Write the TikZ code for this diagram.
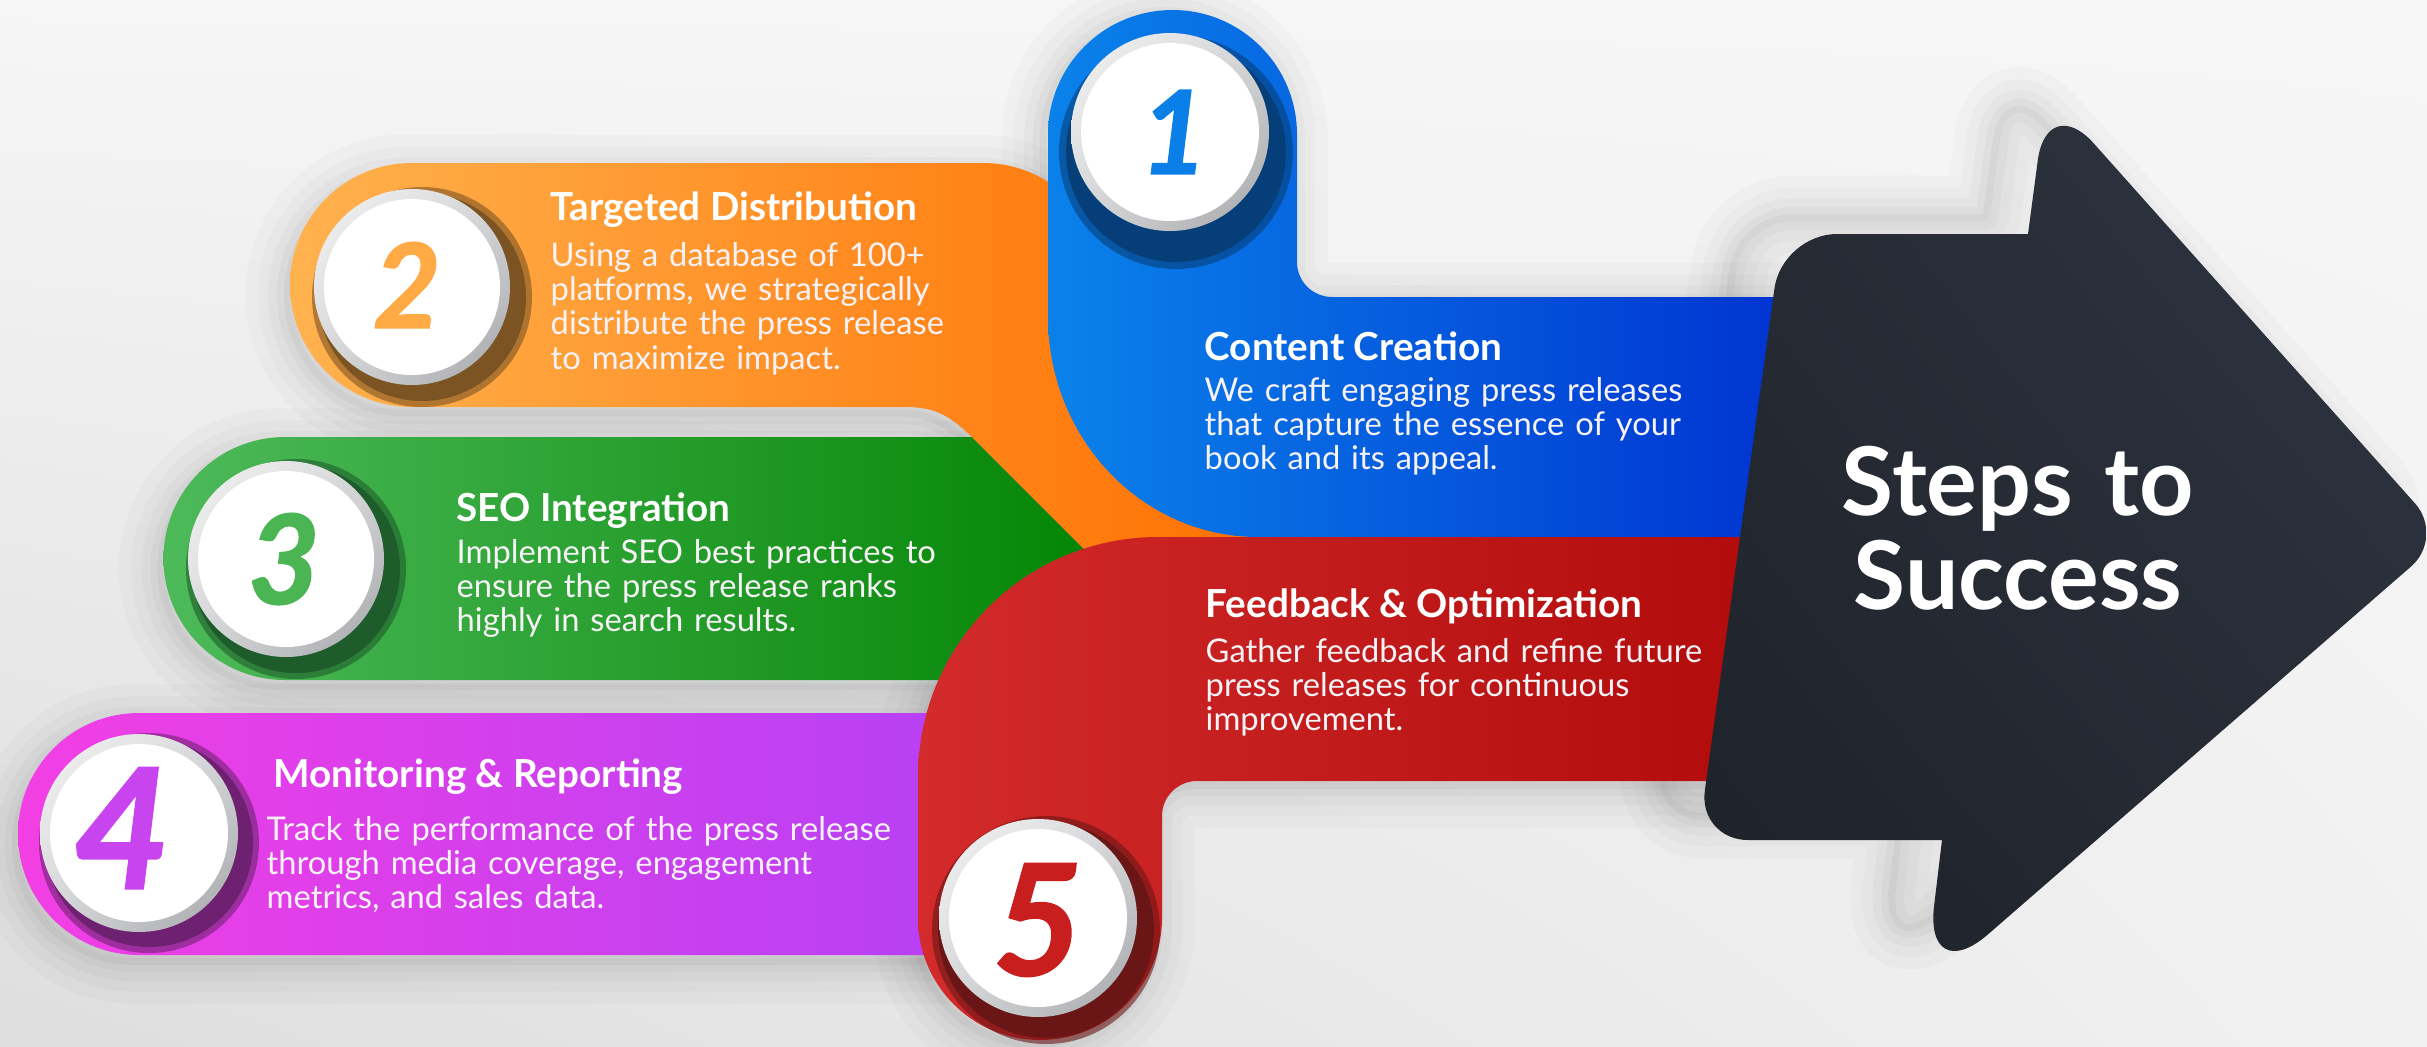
\documentclass[tikz,border=0pt]{standalone}
\usepackage{fontspec}
\setmainfont{Lato}
\newfontfamily\numfont{Lato}[FakeBold=1.2]
\usepackage{xcolor}
\usetikzlibrary{shadings}

% band colours
\definecolor{orangeLight}{HTML}{FFB24E}
\definecolor{orangeMid}{HTML}{FFAA44}
\definecolor{orangeDeep}{HTML}{FF6F00}
\definecolor{greenLight}{HTML}{4DBA5A}
\definecolor{greenMid}{HTML}{3FB24D}
\definecolor{greenDeep}{HTML}{008200}
\definecolor{purpleLeft}{HTML}{F23FE4}
\definecolor{purpleMid}{HTML}{D543EB}
\definecolor{purpleRight}{HTML}{B440F5}
\definecolor{blueMain}{HTML}{0A82EA}
\definecolor{blueMid}{HTML}{0A7DE8}
\definecolor{blueDeep}{HTML}{0030D0}
\definecolor{redMain}{HTML}{D32B2B}
\definecolor{redMid}{HTML}{D12929}
\definecolor{redDeep}{HTML}{B00A0A}
\definecolor{arrowDark}{HTML}{1D2129}
\definecolor{arrowMid}{HTML}{262B34}
\definecolor{arrowLight}{HTML}{313744}
% disc colours
\definecolor{rimLight}{HTML}{F4F4F4}
\definecolor{rimMid}{HTML}{D6D7D9}
\definecolor{rimDark}{HTML}{A4A5A8}
\definecolor{darkBlue}{HTML}{053E78}
\definecolor{darkOrange}{HTML}{7C5424}
\definecolor{darkGreen}{HTML}{1E5C2B}
\definecolor{darkPurple}{HTML}{6E2170}
\definecolor{darkRed}{HTML}{6A1616}
\definecolor{numBlue}{HTML}{0A7FE8}
\definecolor{numOrange}{HTML}{FFAA45}
\definecolor{numGreen}{HTML}{4BB453}
\definecolor{numPurple}{HTML}{C844EE}
\definecolor{numRed}{HTML}{C81E1E}
\definecolor{bodyWhite}{HTML}{F6F2F6}
\definecolor{bgLight}{HTML}{F6F6F6}
\definecolor{bgMid}{HTML}{F1F1F1}
\definecolor{bgDark}{HTML}{DEDEDE}

% outlines of the bands and the arrow (1 unit = 1px, y grows upwards)
\newcommand{\purplepath}{(139,-713) -- (1000,-713) -- (1000,-955) -- (139,-955) arc (270:90:121) -- cycle}
\newcommand{\greenpath}{(285,-437) -- (1150,-437) -- (1150,-680) -- (285,-680) arc (270:90:121.5) -- cycle}
\newcommand{\orangepath}{(412,-163) -- (983,-163) arc (90:0:122) -- (1250,-285) -- (1285,-600) -- (1200,-665) -- (975,-440) .. controls (950,-415) and (935,-407) .. (905,-407) -- (412,-407) arc (270:90:122) -- cycle}
\newcommand{\bluepath}{(1048,-317) -- (1048,-134.5) arc (180:0:124.5) -- (1297,-262) arc (180:270:35) -- (1820,-297) -- (1820,-537) -- (1258,-537) arc [start angle=270, end angle=180, x radius=210, y radius=220] -- cycle}
\newcommand{\redpath}{(918,-918) -- (918,-777) arc (180:90:240) -- (1790,-537) -- (1790,-781) -- (1197,-781) arc (90:180:35) -- (1162,-918) arc (0:-180:122) -- cycle}
\newcommand{\arrowpath}{(1900,-234) [rounded corners=5.5mm] -- (1782,-234) [rounded corners=5mm] -- (1698,-840) [sharp corners] -- (1942,-840) [rounded corners=8.5mm] -- (1924,-990) [rounded corners=4.5mm] -- (2445,-537) [rounded corners=7mm] -- (2047,-91) [sharp corners] -- (2028,-234) -- cycle}

\begin{document}
\begin{tikzpicture}[x=0.1mm, y=0.1mm,
    softshadow/.style={fill=black, opacity=.035, line join=round,
        preaction={draw=black, opacity=.018, line width=22pt, line join=round},
        preaction={draw=black, opacity=.02, line width=15pt, line join=round},
        preaction={draw=black, opacity=.024, line width=9pt, line join=round},
        preaction={draw=black, opacity=.028, line width=4pt, line join=round}},
    rim/.style={upper left=rimLight, upper right=rimMid, lower left=rimMid, lower right=rimDark},
    stepnum/.style={inner sep=0pt},
    steptitle/.style={font=\bfseries\fontsize{11}{13}\selectfont, text=white, inner sep=0pt, anchor=base west},
    stepbody/.style={font=\fontsize{9.3}{9.8}\selectfont, text=bodyWhite, inner sep=0pt, anchor=base west, align=left, text width=8cm}
]
    % background
    \shade[upper left=bgLight, upper right=bgLight, lower left=bgDark, lower right=bgMid] (0,0) rectangle (2427,-1046);
    \useasboundingbox (0,0) rectangle (2427,-1046);

    % shadows under everything
    \path[softshadow, shift={(-6,-10)}] \purplepath;
    \path[softshadow, shift={(-6,-10)}] \greenpath;
    \path[softshadow, shift={(-6,-10)}] \orangepath;
    \path[softshadow, shift={(-8,-4)}] \bluepath;
    \path[softshadow, shift={(-6,-8)}] \redpath;
    \path[softshadow, shift={(-45,20)}] \arrowpath;

    % bands
    \shade[left color=purpleLeft, middle color=purpleMid, right color=purpleRight] \purplepath;
    \shade[left color=greenLight, middle color=greenMid, right color=greenDeep] \greenpath;
    \shade[left color=orangeLight, middle color=orangeMid, right color=orangeDeep] \orangepath;
    \shade[left color=blueMain, middle color=blueMid, right color=blueDeep] \bluepath;
    \shade[left color=redMain, middle color=redMid, right color=redDeep] \redpath;

    % arrow
    \shade[upper left=arrowMid, upper right=arrowLight, lower left=arrowDark, lower right=arrowMid] \arrowpath;
    \node[font=\bfseries\fontsize{27}{27}\selectfont, text=white, inner sep=0pt, anchor=base, align=center, text width=6cm] (goal) at (2018,-515) {Steps to\\Success};

    % step 1
    \fill[darkBlue, opacity=.6] (1176,-152) circle (117);
    \fill[darkBlue] (1176,-152) circle (110);
    \shade[rim] (1170,-132) circle (99);
    \fill[white] (1170,-132) circle (89);
    \node[stepnum, text=numBlue, font=\numfont\bfseries\itshape\fontsize{33}{33}\selectfont] (n1) at (1174,-132) {1};
    \node[steptitle] (t1) at (1204,-360) {Content Creation};
    \node[stepbody] (b1) at (1204,-401) {We craft engaging press releases\\that capture the essence of your\\book and its appeal.};

    % step 2
    \fill[darkOrange, opacity=.6] (422,-297) circle (110);
    \fill[darkOrange] (422,-297) circle (104);
    \shade[rim] (412,-287) circle (98);
    \fill[white] (412,-287) circle (88);
    \node[stepnum, text=numOrange, font=\numfont\bfseries\itshape\fontsize{33.4}{33}\selectfont] (n2) at (407,-285) {2};
    \node[steptitle] (t2) at (550,-220) {Targeted Distribution};
    \node[stepbody] (b2) at (550,-266) {Using a database of 100+\\platforms, we strategically\\distribute the press release\\to maximize impact.};

    % step 3
    \fill[darkGreen, opacity=.6] (296,-569) circle (110);
    \fill[darkGreen] (296,-569) circle (104);
    \shade[rim] (286,-559) circle (98);
    \fill[white] (286,-559) circle (88);
    \node[stepnum, text=numGreen, font=\numfont\bfseries\itshape\fontsize{35.3}{35}\selectfont] (n3) at (284,-559) {3};
    \node[steptitle] (t3) at (456,-521) {SEO Integration};
    \node[stepbody] (b3) at (456,-563) {Implement SEO best practices to\\ensure the press release ranks\\highly in search results.};

    % step 4
    \fill[darkPurple, opacity=.6] (149,-843) circle (110);
    \fill[darkPurple] (149,-843) circle (104);
    \shade[rim] (139,-833) circle (99);
    \fill[white] (139,-833) circle (89);
    \node[stepnum, text=numPurple, font=\numfont\bfseries\itshape\fontsize{47.6}{47}\selectfont] (n4) at (122,-828) {4};
    \node[steptitle] (t4) at (273,-787) {Monitoring \& Reporting};
    \node[stepbody] (b4) at (266,-840) {Track the performance of the press release\\through media coverage, engagement\\metrics, and sales data.};

    % step 5
    \fill[darkRed, opacity=.6] (1046,-930) circle (114);
    \fill[darkRed] (1046,-930) circle (108);
    \shade[rim] (1038,-918) circle (99);
    \fill[white] (1038,-918) circle (89);
    \node[stepnum, text=numRed, font=\numfont\bfseries\itshape\fontsize{44}{44}\selectfont] (n5) at (1038,-920) {5};
    \node[steptitle] (t5) at (1205,-617) {Feedback \& Optimization};
    \node[stepbody] (b5) at (1205,-662) {Gather feedback and refine future\\press releases for continuous\\improvement.};
\end{tikzpicture}
\end{document}
